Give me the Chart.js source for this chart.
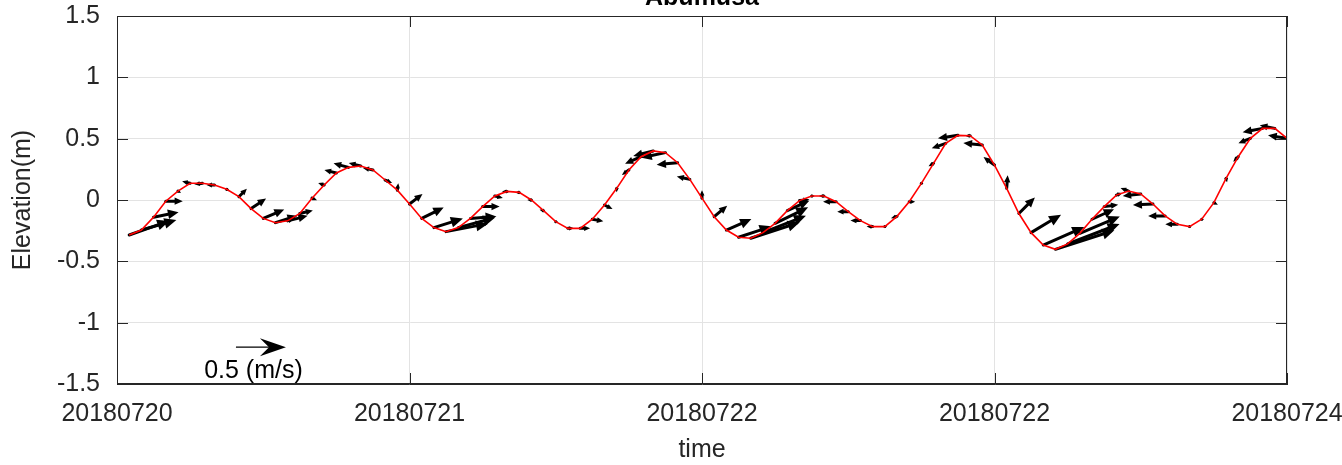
<!DOCTYPE html>
<html><head><meta charset="utf-8">
<script src="https://cdn.jsdelivr.net/npm/chart.js@4/dist/chart.umd.min.js"></script>
<style>html,body{margin:0;padding:0;background:#fff;overflow:hidden}#wrap{width:1342px;height:465px}</style>
</head><body><div id="wrap"><canvas id="c" width="1342" height="465"></canvas></div>
<script>
const chartTitle = 'Abumusa';
const xAxisTitle = 'time';
const yAxisTitle = 'Elevation(m)';
const hours = [1,2,3,4,5,6,7,8,9,10,11,12,13,14,15,16,17,18,19,20,21,22,23,24,25,26,27,28,29,30,31,32,33,34,35,36,37,38,39,40,41,42,43,44,45,46,47,48,49,50,51,52,53,54,55,56,57,58,59,60,61,62,63,64,65,66,67,68,69,70,71,72,73,74,75,76,77,78,79,80,81,82,83,84,85,86,87,88,89,90,91,92,93,94,95,96];
const elevation = [-0.285,-0.245,-0.14,-0.01,0.073,0.136,0.136,0.122,0.087,0.027,-0.07,-0.15,-0.185,-0.17,-0.11,0.015,
 0.122,0.22,0.266,0.277,0.245,0.163,0.08,-0.033,-0.15,-0.225,-0.258,-0.225,-0.15,-0.054,0.033,0.07,
 0.062,0.0,-0.087,-0.177,-0.231,-0.231,-0.157,-0.041,0.095,0.245,0.353,0.40,0.386,0.304,0.168,0.015,
 -0.136,-0.245,-0.304,-0.312,-0.266,-0.19,-0.087,-0.005,0.033,0.033,-0.014,-0.095,-0.168,-0.217,-0.217,-0.133,
 -0.014,0.136,0.299,0.462,0.527,0.524,0.448,0.285,0.095,-0.11,-0.266,-0.367,-0.402,-0.358,-0.272,-0.157,
 -0.054,0.04,0.073,0.049,-0.033,-0.13,-0.198,-0.217,-0.157,-0.022,0.177,0.353,0.503,0.584,0.584,0.503];
const currentU = [0.40,0.35,0.25,0.17,0.03,-0.08,-0.08,-0.08,0.03,0.08,0.15,0.21,0.22,0.20,0.13,0.05,
 -0.06,-0.12,-0.15,-0.12,-0.10,0.07,0.01,0.13,0.22,0.29,0.42,0.37,0.26,0.17,0.08,-0.05,
 -0.04,-0.04,-0.04,0.02,0.06,0.10,0.11,0.08,0.00,-0.07,-0.16,-0.20,-0.24,-0.21,-0.13,0.00,
 0.13,0.25,0.33,0.49,0.43,0.33,0.22,0.10,0.03,-0.05,-0.13,-0.11,-0.10,-0.06,0.02,-0.06,
 0.06,0.02,-0.05,-0.14,-0.20,-0.05,-0.19,-0.11,0.01,0.16,0.30,0.41,0.59,0.52,0.40,0.22,
 0.14,0.06,-0.08,-0.18,-0.20,-0.17,-0.12,0.02,0.02,0.04,0.01,-0.05,-0.12,-0.20,-0.15,-0.19];
const currentV = [0.14,0.10,0.05,0.00,-0.02,0.02,-0.01,0.00,-0.02,0.08,0.10,0.09,0.07,0.05,0.03,-0.02,
 0.02,0.03,0.04,0.03,0.02,-0.03,0.07,0.10,0.11,0.09,0.08,0.10,0.02,0.00,-0.02,0.00,
 0.00,0.00,0.01,0.00,0.00,0.00,-0.02,-0.04,-0.04,-0.05,-0.07,-0.05,-0.05,-0.02,0.03,0.08,
 0.11,0.11,0.11,0.16,0.17,0.16,0.10,0.01,0.00,0.00,0.00,0.00,0.00,0.00,0.00,-0.02,
 0.00,0.00,-0.03,-0.05,-0.03,0.00,0.02,0.08,0.13,0.16,0.18,0.18,0.19,0.20,0.17,0.10,
 0.02,0.02,0.03,-0.02,-0.01,0.00,0.00,0.00,0.00,-0.02,-0.04,-0.05,-0.05,-0.04,0.03,0.03];
const xTickValues = [0,24,48,72,96];
const xTickLabels = ['20180720','20180721','20180722','20180722','20180724'];
const yTickValues = [-1.5,-1,-0.5,0,0.5,1,1.5];
const yTickLabels = ['-1.5','-1','-0.5','0','0.5','1','1.5'];
const refArrowSpeed = 0.5;
const refArrowLabel = '0.5 (m/s)';
const refArrowHour = 9.76;
const refArrowElev = -1.2;
const hoursPerMs = 8.2;   // quiver scale: hours of x-axis per 1 m/s

const FONT = '"Liberation Sans", Arial, Helvetica, sans-serif';
const TICK_SIZE = 25, LABEL_SIZE = 25;
const AX = '#262626';

function drawArrow(ctx, x0, y0, x1, y1, lw, headLen, headW, notch) {
  const dx = x1 - x0, dy = y1 - y0, L = Math.hypot(dx, dy);
  if (L < 0.5) { ctx.beginPath(); ctx.arc(x0, y0, 1.5, 0, 2*Math.PI); ctx.fill(); return; }
  const ux = dx / L, uy = dy / L, px = -uy, py = ux;
  const hl = Math.min(headLen, L);
  const bx = x1 - ux*hl, by = y1 - uy*hl;
  ctx.lineWidth = lw;
  ctx.beginPath(); ctx.moveTo(x0, y0); ctx.lineTo(bx + ux*hl*notch, by + uy*hl*notch); ctx.stroke();
  ctx.beginPath();
  ctx.moveTo(x1, y1);
  ctx.lineTo(bx + px*headW, by + py*headW);
  ctx.lineTo(bx + ux*hl*notch, by + uy*hl*notch);
  ctx.lineTo(bx - px*headW, by - py*headW);
  ctx.closePath(); ctx.fill();
}

const quiverPlugin = {
  id: 'quiver',
  beforeDatasetsDraw(chart) {
    const {ctx, scales: {x, y}, chartArea: a} = chart;
    const k = x.getPixelForValue(hoursPerMs) - x.getPixelForValue(0);
    ctx.save();
    ctx.beginPath(); ctx.rect(a.left, a.top, a.right - a.left, a.bottom - a.top); ctx.clip();
    ctx.fillStyle = '#000'; ctx.strokeStyle = '#000'; ctx.lineCap = 'round';
    for (let i = 0; i < hours.length; i++) {
      const x0 = x.getPixelForValue(hours[i]), y0 = y.getPixelForValue(elevation[i]);
      const x1 = x0 + currentU[i]*k, y1 = y0 - currentV[i]*k;
      const L = Math.hypot(x1-x0, y1-y0);
      const hl = Math.min(12, 0.3*L + 3);
      drawArrow(ctx, x0, y0, x1, y1, 3, hl, hl*0.45, 0);
    }
    ctx.restore();
  },
  afterDraw(chart) {
    const {ctx, scales: {x, y}, chartArea: a} = chart;
    const k = x.getPixelForValue(hoursPerMs) - x.getPixelForValue(0);
    ctx.save();
    ctx.strokeStyle = AX; ctx.lineWidth = 1;
    ctx.strokeRect(a.left + 0.5, a.top + 0.5, a.right - a.left - 1, a.bottom - a.top - 1);
    const tl = 11;
    ctx.beginPath();
    yTickValues.forEach(v => {
      const py = Math.round(y.getPixelForValue(v)) + 0.5;
      ctx.moveTo(a.left, py); ctx.lineTo(a.left + tl, py);
      ctx.moveTo(a.right, py); ctx.lineTo(a.right - tl, py);
    });
    xTickValues.forEach(v => {
      const px = Math.round(x.getPixelForValue(v)) + 0.5;
      ctx.moveTo(px, a.bottom); ctx.lineTo(px, a.bottom - tl);
      ctx.moveTo(px, a.top); ctx.lineTo(px, a.top + tl);
    });
    ctx.stroke();
    const rx0 = x.getPixelForValue(refArrowHour), ry0 = y.getPixelForValue(refArrowElev);
    ctx.fillStyle = '#000'; ctx.strokeStyle = '#000';
    drawArrow(ctx, rx0, ry0, rx0 + refArrowSpeed*k, ry0, 1.3, 26, 9, 0.35);
    ctx.font = `${TICK_SIZE}px ${FONT}`;
    ctx.fillStyle = '#000'; ctx.textAlign = 'center'; ctx.textBaseline = 'middle';
    ctx.fillText(refArrowLabel, rx0 + refArrowSpeed*k*0.35, ry0 + 24);
    ctx.font = `bold ${LABEL_SIZE}px ${FONT}`;
    ctx.textBaseline = 'alphabetic';
    ctx.fillText(chartTitle, (a.left + a.right)/2, 5);
    ctx.restore();
  }
};

new Chart(document.getElementById('c'), {
  type: 'line',
  data: { datasets: [{
    data: hours.map((h, i) => ({x: h, y: elevation[i]})),
    borderColor: '#ff0000', borderWidth: 1.6, pointRadius: 0, tension: 0, fill: false
  }]},
  options: {
    responsive: false, animation: false, devicePixelRatio: 1,
    layout: { padding: { top: 16, right: 55, left: 0, bottom: 0 } },
    plugins: { legend: { display: false }, tooltip: { enabled: false }, title: { display: false } },
    scales: {
      x: {
        type: 'linear', min: 0, max: 96,
        afterBuildTicks: s => { s.ticks = xTickValues.map(v => ({value: v})); },
        afterFit: s => { s.height = 81; s.paddingLeft = 0; s.paddingRight = 0; },
        ticks: { autoSkip: false, maxRotation: 0, padding: 15, color: AX,
          font: { family: FONT, size: TICK_SIZE },
          callback: v => xTickLabels[xTickValues.indexOf(v)] },
        grid: { color: '#e3e3e3', drawTicks: false, lineWidth: 1 },
        border: { display: true, color: AX },
        title: { display: true, text: xAxisTitle, color: AX, font: { family: FONT, size: LABEL_SIZE }, padding: { top: 7, bottom: 0 } }
      },
      y: {
        min: -1.5, max: 1.5,
        afterBuildTicks: s => { s.ticks = yTickValues.map(v => ({value: v})); },
        afterFit: s => { s.width = 117; s.paddingTop = 0; s.paddingBottom = 0; },
        ticks: { padding: 17, color: AX, font: { family: FONT, size: TICK_SIZE },
          callback: v => yTickLabels[yTickValues.indexOf(v)] },
        grid: { color: '#e3e3e3', drawTicks: false, lineWidth: 1 },
        border: { display: true, color: AX },
        title: { display: true, text: yAxisTitle, color: AX, font: { family: FONT, size: LABEL_SIZE }, padding: { top: 8, bottom: 0 } }
      }
    }
  },
  plugins: [quiverPlugin]
});
</script>
</body></html>
